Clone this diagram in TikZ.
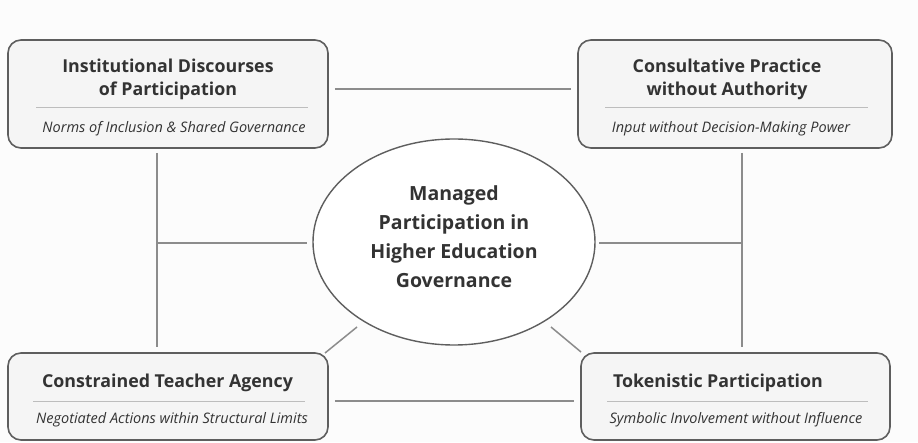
\documentclass[tikz,border=0pt]{standalone}
\usepackage{fontspec}
\setmainfont{Open Sans}
\usetikzlibrary{calc}
\definecolor{ink}{HTML}{333333}
\definecolor{frame}{HTML}{5E5E5E}
\definecolor{wire}{HTML}{8C8C8C}
\definecolor{rule}{HTML}{BDBDBD}
\definecolor{boxfill}{HTML}{F5F5F5}
\definecolor{paper}{HTML}{FCFCFC}
\begin{document}
\begin{tikzpicture}[x=1pt,y=1pt,
  card/.style={draw=frame, line width=1.6pt, rounded corners=13pt, fill=boxfill,
    minimum height=#1, inner sep=0pt},
  card/.default=108pt,
  title/.style={text=ink, font=\fontsize{17.8}{23}\selectfont\bfseries, align=center, inner sep=0pt},
  sub/.style={text=ink, font=\fontsize{14.5}{16}\selectfont\itshape, inner sep=0pt},
  hubtext/.style={text=ink, font=\fontsize{19.5}{29}\selectfont\bfseries, align=center, inner sep=0pt},
  sep/.style={draw=rule, line width=0.8pt},
  link/.style={draw=wire, line width=1.5pt}]
\useasboundingbox[fill=paper] (0,0) rectangle (918,442);

% four corner cards
\node[card, minimum width=320pt] (TL) at (168,348) {};
\node[card, minimum width=314pt] (TR) at (735,348) {};
\node[card=87pt, minimum width=320pt] (BL) at (168,45.5) {};
\node[card=87pt, minimum width=309pt] (BR) at (735.5,45.5) {};

% central ellipse
\draw[draw=frame, line width=1.4pt, fill=white] (454,200) ellipse [x radius=141, y radius=103];
\node[inner sep=0pt, minimum width=282pt, minimum height=206pt] (E) at (454,200) {};
\node[hubtext] (Etext) at (454,205) {Managed\\Participation in\\Higher Education\\Governance};

% card texts
\node[title] (TLt) at (168,362.5) {Institutional Discourses\\of Participation};
\coordinate (TLs1) at (36,335); \coordinate (TLs2) at (308,335);
\draw[sep] (TLs1) -- (TLs2);
\node[sub] (TLsub) at (174,313) {Norms of Inclusion \& Shared Governance};

\node[title] (TRt) at (727,362.5) {Consultative Practice\\without Authority};
\coordinate (TRs1) at (605,335); \coordinate (TRs2) at (868,335);
\draw[sep] (TRs1) -- (TRs2);
\node[sub] (TRsub) at (731,313) {Input without Decision-Making Power};

\node[title] (BLt) at (167.5,59) {Constrained Teacher Agency};
\coordinate (BLs1) at (33,41); \coordinate (BLs2) at (305,41);
\draw[sep] (BLs1) -- (BLs2);
\node[sub] (BLsub) at (172,22) {Negotiated Actions within Structural Limits};

\node[title] (BRt) at (718,59) {Tokenistic Participation};
\coordinate (BRs1) at (607,41); \coordinate (BRs2) at (868,41);
\draw[sep] (BRs1) -- (BRs2);
\node[sub] (BRsub) at (736,22) {Symbolic Involvement without Influence};

% connectors
\draw[link] ($(TL.east)+(6,5)$) -- ($(TR.west)+(-6,5)$);
\draw[link] ($(BL.east)+(6,-4.5)$) -- ($(BR.west)+(-6,-4.5)$);
\draw[link] ($(TL.south)+(-11,-4)$) -- ($(BL.north)+(-11,5)$);
\draw[link] ($(TR.south)+(7,-4)$) -- ($(BR.north)+(6.5,5)$);
\coordinate (LJ) at (157,199);
\coordinate (RJ) at (742,199);
\draw[link] (LJ) -- ($(E.west)+(-6,-1)$);
\draw[link] ($(E.east)+(4,-1)$) -- (RJ);
\coordinate (DL1) at (357,115); \coordinate (DL2) at (325,89);
\coordinate (DR1) at (551,115); \coordinate (DR2) at (581,90);
\draw[link] (DL1) -- (DL2);
\draw[link] (DR1) -- (DR2);
\end{tikzpicture}
\end{document}
